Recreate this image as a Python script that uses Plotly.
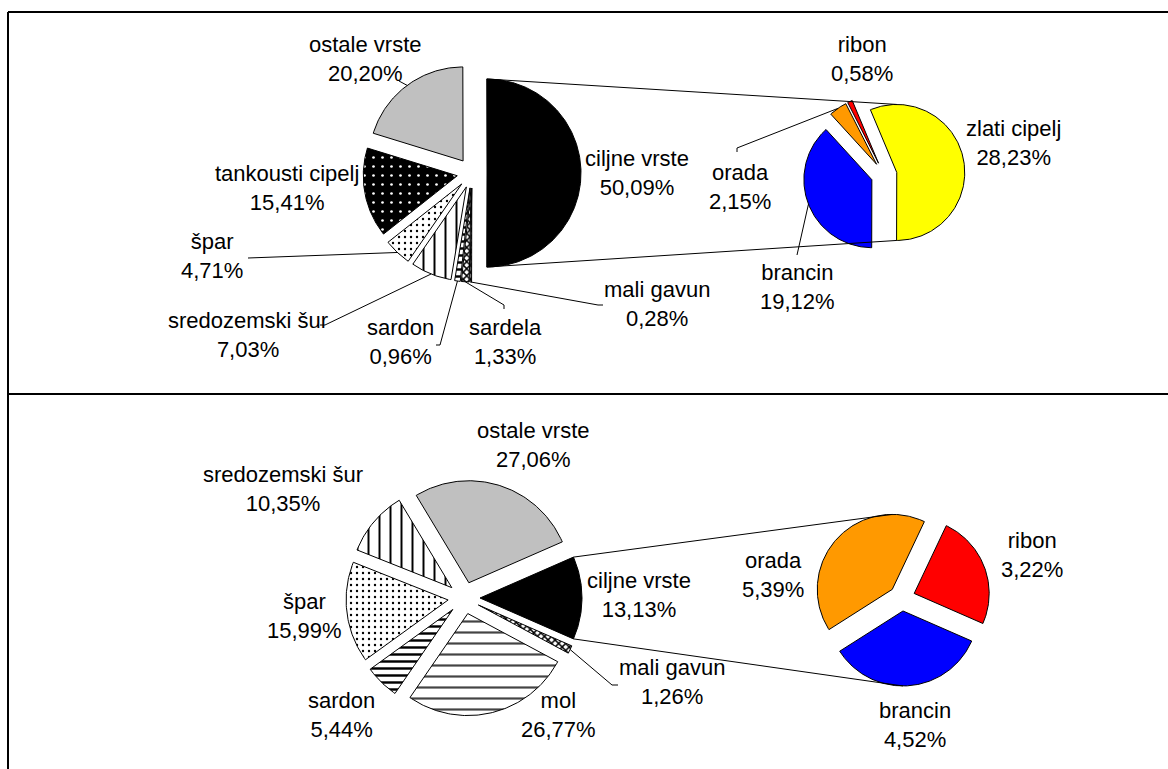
import numpy as np
import plotly.graph_objects as go

# ---------------- data ----------------
# upper panel: main pie (clockwise from the combined slice) and its breakdown
top_main_labels = ["ciljne vrste", "mali gavun", "sardela", "sardon",
                   "sredozemski šur", "špar", "tankousti cipelj", "ostale vrste"]
top_main_values = [50.09, 0.28, 1.33, 0.96, 7.03, 4.71, 15.41, 20.20]
top_sub_labels = ["zlati cipelj", "brancin", "orada", "ribon"]
top_sub_values = [28.23, 19.12, 2.15, 0.58]

# lower panel
bot_main_labels = ["ciljne vrste", "mali gavun", "mol", "sardon",
                   "špar", "sredozemski šur", "ostale vrste"]
bot_main_values = [13.13, 1.26, 26.77, 5.44, 15.99, 10.35, 27.06]
bot_sub_labels = ["ribon", "brancin", "orada"]
bot_sub_values = [3.22, 4.52, 5.39]

# ---------------- styling ----------------
W, H = 1168, 769
FONT = dict(family="Liberation Sans, Arial, sans-serif", size=22, color="black")

SOLID = {
    "ciljne vrste": "#000000",
    "ostale vrste": "#C0C0C0",
    "zlati cipelj": "#FFFF00",
    "brancin": "#0000FF",
    "orada": "#FF9900",
    "ribon": "#FF0000",
}
PATTERNS = {
    "tankousti cipelj": dict(shape=".", fgcolor="white", bgcolor="black", size=9, solidity=0.07),
    "špar": dict(shape=".", fgcolor="black", bgcolor="white", size=6, solidity=0.12),
    "sredozemski šur": dict(shape="|", fgcolor="black", bgcolor="white", size=11, solidity=0.18),
    "sardon": dict(shape="-", fgcolor="black", bgcolor="white", size=7, solidity=0.35),
    "sardela": dict(shape="x", fgcolor="black", bgcolor="white", size=5, solidity=0.5),
    "mali gavun": dict(shape="x", fgcolor="black", bgcolor="white", size=5, solidity=0.5),
    "mol": dict(shape="-", fgcolor="#444444", bgcolor="white", size=11, solidity=0.2),
}

# pie placement in page pixels: centre, radius, explosion distance
TOP_MAIN = dict(cx=472, cy=173, r=94, pull=15)
TOP_SUB = dict(cx=884, cy=175, r=68, pull=13)
BOT_MAIN = dict(cx=464, cy=598, r=102, pull=16)
BOT_SUB = dict(cx=902, cy=598, r=75, pull=13)

# label text centres and leader-line end points (page pixels)
TOP_LABELS = {
    "ostale vrste": (365, 59), "tankousti cipelj": (287, 188), "špar": (212, 256),
    "sredozemski šur": (248, 335), "sardon": (400, 342), "sardela": (505, 342),
    "mali gavun": (657, 304), "ciljne vrste": (637, 173),
    "ribon": (862, 59), "zlati cipelj": (1013, 143), "orada": (740, 187),
    "brancin": (797, 287),
}
TOP_LEADERS = {
    "ostale vrste": [(399, 81)],
    "špar": [(248, 258)],
    "sredozemski šur": [(325, 325), (320, 325)],
    "sardon": [(440, 345), (436, 345)],
    "sardela": [(504, 305), (504, 309)],
    "mali gavun": [(598, 305), (603, 305)],
    "orada": [(737, 148), (737, 152)],
    "brancin": [(797, 255)],
}
BOT_LABELS = {
    "ostale vrste": (533, 445), "sredozemski šur": (283, 489), "špar": (304, 616),
    "sardon": (341, 715), "mol": (558, 715), "mali gavun": (672, 682),
    "ciljne vrste": (639, 595), "orada": (773, 575), "ribon": (1032, 555),
    "brancin": (915, 725),
}
BOT_LEADERS = {
    "mali gavun": [(612, 685), (618, 685)],
}


def pct(v):
    return f"{v:.2f}".replace(".", ",") + "%"


def angles(values, start):
    """Clockwise slice boundaries (degrees) beginning at `start`."""
    total = sum(values)
    out, a = [], start
    for v in values:
        span = 360.0 * v / total
        out.append((a, a - span))
        a -= span
    return out


def xy(cx, cy, r, deg):
    t = np.radians(deg)
    return cx + r * np.cos(t), cy - r * np.sin(t)


fig = go.Figure()


def draw_pie(labels, values, geo, start, label_pos, leaders):
    cx, cy, r, pull = geo["cx"], geo["cy"], geo["r"], geo["pull"]
    info = {}
    for lab, val, (a0, a1) in zip(labels, values, angles(values, start)):
        mid = (a0 + a1) / 2
        ox, oy = xy(cx, cy, pull, mid)
        arc = np.linspace(a0, a1, max(3, int(abs(a0 - a1)) + 2))
        xs = [ox] + list(ox + r * np.cos(np.radians(arc))) + [ox]
        ys = [oy] + list(oy - r * np.sin(np.radians(arc))) + [oy]
        kw = dict(x=xs, y=ys, mode="lines", fill="toself",
                  line=dict(color="black", width=1), hoverinfo="skip",
                  showlegend=False, name=lab)
        if lab in PATTERNS:
            p = PATTERNS[lab]
            kw["fillcolor"] = p["bgcolor"]
            kw["fillpattern"] = dict(shape=p["shape"], fgcolor=p["fgcolor"],
                                     bgcolor=p["bgcolor"], size=p["size"],
                                     solidity=p["solidity"], fillmode="replace")
        else:
            kw["fillcolor"] = SOLID[lab]
        fig.add_trace(go.Scatter(**kw))
        info[lab] = dict(a0=a0, a1=a1, ox=ox, oy=oy, r=r)

        # leader line from the arc middle to the label
        if lab in leaders:
            sx, sy = xy(ox, oy, r, mid)
            pts = [(sx, sy)] + leaders[lab]
            fig.add_trace(go.Scatter(x=[p[0] for p in pts], y=[p[1] for p in pts],
                                     mode="lines", line=dict(color="black", width=1),
                                     hoverinfo="skip", showlegend=False))
        tx, ty = label_pos[lab]
        fig.add_annotation(x=tx, y=ty, text=f"{lab}<br>{pct(val)}",
                           showarrow=False, xanchor="center", yanchor="middle",
                           font=FONT, align="center")
    return info


def point_on(info, deg):
    """Point on the outer arc of whichever exploded slice contains `deg`."""
    for s in info.values():
        lo, hi = s["a1"], s["a0"]
        d = deg
        while d > hi:
            d -= 360
        while d < lo:
            d += 360
        if lo <= d <= hi:
            return xy(s["ox"], s["oy"], s["r"], deg)
    return None


def draw_panel(main_labels, main_values, main_geo, main_lab, main_lead,
               sub_labels, sub_values, sub_geo, sub_lab, sub_lead):
    half = 360.0 * main_values[0] / sum(main_values) / 2
    main = draw_pie(main_labels, main_values, main_geo, half, main_lab, main_lead)
    sub_start = -half + 360.0 * sub_values[0] / sum(sub_values)
    sub = draw_pie(sub_labels, sub_values, sub_geo, sub_start, sub_lab, sub_lead)
    # connectors between the combined slice and the secondary pie
    c = main[main_labels[0]]
    for a_main, a_sub in ((c["a0"], 90), (c["a1"], -90)):
        p0 = xy(c["ox"], c["oy"], c["r"], a_main)
        p1 = point_on(sub, a_sub)
        fig.add_trace(go.Scatter(x=[p0[0], p1[0]], y=[p0[1], p1[1]], mode="lines",
                                 line=dict(color="black", width=1),
                                 hoverinfo="skip", showlegend=False))


draw_panel(top_main_labels, top_main_values, TOP_MAIN, TOP_LABELS, TOP_LEADERS,
           top_sub_labels, top_sub_values, TOP_SUB, TOP_LABELS, TOP_LEADERS)
draw_panel(bot_main_labels, bot_main_values, BOT_MAIN, BOT_LABELS, BOT_LEADERS,
           bot_sub_labels, bot_sub_values, BOT_SUB, BOT_LABELS, BOT_LEADERS)

# panel frame lines
for x0, y0, x1, y1 in ((8, 12, W, 12), (8, 12, 8, H), (8, 394, W, 394)):
    fig.add_shape(type="line", x0=x0, y0=y0, x1=x1, y1=y1,
                  line=dict(color="black", width=2), layer="above")

fig.update_layout(
    width=W, height=H, margin=dict(l=0, r=0, t=0, b=0),
    paper_bgcolor="white", plot_bgcolor="white",
    xaxis=dict(range=[0, W], visible=False, fixedrange=True),
    yaxis=dict(range=[H, 0], visible=False, fixedrange=True),
    showlegend=False,
)

fig.write_html("out.html")
